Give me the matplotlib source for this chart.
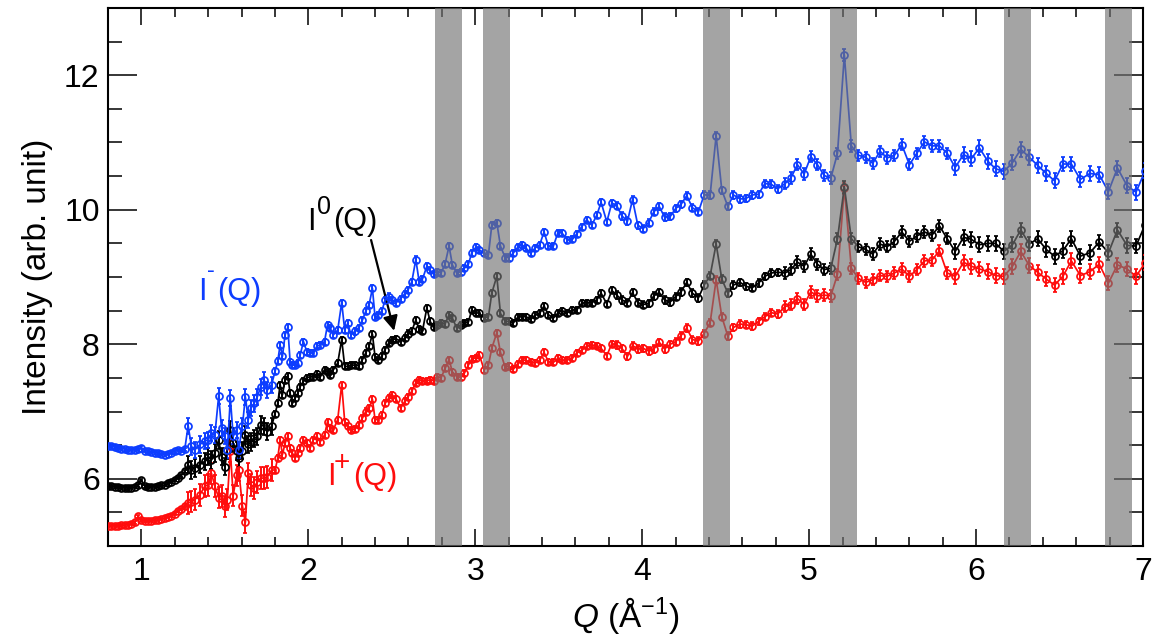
import numpy as np
import matplotlib
matplotlib.use("Agg")
import matplotlib.pyplot as plt

plt.rcParams['font.family'] = ['Liberation Sans', 'DejaVu Sans']
plt.rcParams['mathtext.fontset'] = 'custom'
plt.rcParams['mathtext.rm'] = 'Liberation Sans'
plt.rcParams['mathtext.it'] = 'Liberation Sans:italic'

# ---------------- data ----------------
# region A: flat low-Q part
q_a = [0.80, 0.82, 0.84, 0.86, 0.88, 0.90, 0.92, 0.94, 0.96, 0.98, 1.00, 1.02,
       1.04, 1.06, 1.08, 1.10, 1.12, 1.14, 1.16, 1.18, 1.20, 1.22, 1.24, 1.26]
minus_a = [6.49, 6.48, 6.47, 6.46, 6.45, 6.44, 6.43, 6.43, 6.43, 6.44, 6.46, 6.42,
           6.41, 6.40, 6.39, 6.38, 6.37, 6.36, 6.37, 6.39, 6.41, 6.43, 6.42, 6.44]
zero_a = [5.89, 5.89, 5.88, 5.88, 5.87, 5.87, 5.86, 5.87, 5.88, 5.90, 5.98, 5.89,
          5.88, 5.88, 5.88, 5.89, 5.90, 5.91, 5.93, 5.95, 5.98, 6.01, 6.05, 6.11]
plus_a = [5.30, 5.30, 5.30, 5.30, 5.31, 5.31, 5.32, 5.33, 5.35, 5.44, 5.38, 5.37,
          5.37, 5.37, 5.38, 5.39, 5.40, 5.42, 5.43, 5.45, 5.48, 5.52, 5.55, 5.59]
err_a = (0.02, 0.02, 0.02)

# region B: noisy part with large errors
q_b = [1.28, 1.30, 1.32, 1.35, 1.38, 1.40, 1.42, 1.44, 1.463, 1.48, 1.50, 1.515,
       1.533, 1.55, 1.57, 1.583, 1.605, 1.623, 1.64, 1.655, 1.675, 1.695, 1.715,
       1.735, 1.755, 1.78]
minus_b = [6.79, 6.48, 6.43, 6.51, 6.56, 6.58, 6.68, 6.65, 7.23, 6.75, 6.63, 6.43,
           7.20, 6.63, 6.73, 6.43, 6.78, 7.22, 6.88, 7.05, 7.12, 7.22, 7.37, 7.47,
           7.32, 7.40]
zero_b = [6.21, 6.13, 6.16, 6.21, 6.26, 6.33, 6.28, 6.38, 6.58, 6.33, 6.18, 6.43,
          6.73, 6.53, 6.41, 6.31, 6.42, 6.65, 6.51, 6.55, 6.60, 6.63, 6.80, 6.78,
          6.70, 6.78]
plus_b = [5.64, 5.66, 5.69, 5.76, 5.89, 5.91, 6.08, 5.89, 5.72, 5.74, 5.59, 5.69,
          6.41, 5.75, 6.05, 6.13, 5.60, 5.35, 6.08, 5.91, 5.86, 5.95, 6.01, 6.01,
          6.03, 6.13]
err_b = (0.12, 0.13, 0.16)

# region C
q_c = [1.801, 1.817, 1.831, 1.845, 1.861, 1.877, 1.891, 1.905, 1.921, 1.937, 1.951,
       1.971, 1.991, 2.011, 2.031, 2.051, 2.071, 2.097, 2.115, 2.131, 2.150, 2.176,
       2.200, 2.218, 2.236, 2.256, 2.280, 2.302, 2.324, 2.344, 2.364, 2.384, 2.400,
       2.420, 2.440, 2.460, 2.482, 2.502, 2.527, 2.553, 2.578, 2.598, 2.620, 2.644,
       2.664, 2.684, 2.710, 2.730, 2.750, 2.770, 2.795]
minus_c = [7.60, 7.75, 7.99, 7.82, 8.14, 8.25, 7.74, 7.69, 7.69, 7.72, 7.84, 8.04,
           7.89, 7.87, 7.87, 7.97, 7.99, 8.04, 8.29, 8.24, 8.14, 8.21, 8.62, 8.21,
           8.31, 8.14, 8.19, 8.24, 8.36, 8.49, 8.59, 8.83, 8.40, 8.44, 8.49, 8.66,
           8.71, 8.66, 8.62, 8.68, 8.75, 8.81, 8.93, 9.26, 8.93, 8.97, 9.16, 9.10,
           9.05, 9.08, 9.06]
zero_c = [6.97, 7.12, 7.40, 7.25, 7.47, 7.53, 7.27, 7.12, 7.20, 7.27, 7.37, 7.45,
          7.50, 7.52, 7.52, 7.56, 7.52, 7.62, 7.59, 7.54, 7.62, 7.72, 8.07, 7.67,
          7.67, 7.69, 7.69, 7.68, 7.77, 7.87, 7.97, 8.15, 7.81, 7.76, 7.82, 7.92,
          8.02, 8.07, 8.08, 8.04, 8.09, 8.16, 8.20, 8.36, 8.22, 8.20, 8.54, 8.34,
          8.25, 8.29, 8.31]
plus_c = [6.13, 6.31, 6.58, 6.36, 6.53, 6.63, 6.46, 6.38, 6.31, 6.38, 6.46, 6.58,
          6.53, 6.46, 6.58, 6.63, 6.55, 6.65, 6.85, 6.75, 6.73, 6.88, 7.40, 6.85,
          6.78, 6.72, 6.74, 6.80, 6.90, 7.00, 7.05, 7.18, 6.88, 6.88, 6.95, 7.12,
          7.20, 7.25, 7.18, 7.05, 7.15, 7.22, 7.30, 7.43, 7.47, 7.45, 7.46, 7.47,
          7.46, 7.51, 7.50]
err_c = (0.045, 0.045, 0.045)

# region D
q_d = [2.819, 2.843, 2.863, 2.889, 2.913, 2.935, 2.959, 2.979, 3.003, 3.025, 3.053,
       3.079, 3.099, 3.129, 3.151, 3.179, 3.203, 3.229, 3.254, 3.280, 3.304, 3.332,
       3.358, 3.386, 3.412, 3.438, 3.468, 3.494, 3.518, 3.552, 3.582, 3.608, 3.638,
       3.668, 3.698, 3.728, 3.754, 3.788, 3.818]
minus_d = [9.19, 9.46, 9.18, 9.06, 9.08, 9.13, 9.19, 9.36, 9.44, 9.40, 9.35, 9.33,
           9.77, 9.81, 9.46, 9.29, 9.29, 9.36, 9.44, 9.48, 9.43, 9.35, 9.43, 9.48,
           9.67, 9.46, 9.46, 9.65, 9.66, 9.55, 9.56, 9.64, 9.75, 9.85, 9.77, 9.92,
           10.11, 9.82, 10.10]
zero_d = [8.30, 8.44, 8.39, 8.24, 8.29, 8.31, 8.33, 8.51, 8.47, 8.46, 8.39, 8.41,
          8.76, 9.01, 8.46, 8.34, 8.34, 8.32, 8.40, 8.41, 8.41, 8.37, 8.43, 8.46,
          8.57, 8.44, 8.39, 8.46, 8.50, 8.47, 8.51, 8.51, 8.61, 8.62, 8.62, 8.66,
          8.76, 8.60, 8.80]
plus_d = [7.64, 7.77, 7.59, 7.52, 7.51, 7.57, 7.69, 7.78, 7.80, 7.84, 7.62, 7.69,
          7.94, 8.17, 7.88, 7.66, 7.67, 7.63, 7.71, 7.77, 7.76, 7.73, 7.72, 7.76,
          7.88, 7.74, 7.73, 7.79, 7.76, 7.77, 7.79, 7.87, 7.91, 7.97, 7.99, 7.97,
          7.94, 7.83, 8.01]
err_d = (0.045, 0.045, 0.045)

# region E
q_e = [3.848, 3.878, 3.912, 3.942, 3.974, 4.006, 4.038, 4.070, 4.102, 4.134, 4.168,
       4.201, 4.233, 4.267, 4.301, 4.337, 4.371, 4.407, 4.443, 4.477, 4.513, 4.547,
       4.587, 4.623, 4.659, 4.697, 4.735, 4.773, 4.811]
minus_e = [10.06, 9.91, 9.83, 10.15, 9.77, 9.72, 9.81, 9.97, 10.05, 9.89, 9.90,
           10.02, 10.08, 10.21, 10.03, 9.97, 10.22, 10.22, 11.10, 10.29, 10.05,
           10.22, 10.16, 10.17, 10.22, 10.23, 10.39, 10.38, 10.31]
zero_e = [8.73, 8.66, 8.62, 8.77, 8.62, 8.59, 8.61, 8.72, 8.77, 8.66, 8.63, 8.71,
          8.78, 8.92, 8.76, 8.69, 8.88, 9.02, 9.49, 8.97, 8.76, 8.88, 8.92, 8.86,
          8.84, 8.91, 9.01, 9.06, 9.07]
plus_e = [7.99, 7.94, 7.82, 7.98, 7.93, 7.94, 7.90, 7.93, 8.03, 7.93, 8.00, 8.04,
          8.13, 8.24, 8.07, 8.05, 8.16, 8.32, 8.96, 8.41, 8.12, 8.25, 8.30, 8.29,
          8.27, 8.34, 8.41, 8.47, 8.45]
err_e = (0.055, 0.055, 0.055)

# region F
q_f = [4.856, 4.890, 4.930, 4.970, 5.010, 5.050, 5.090, 5.130, 5.170, 5.211, 5.253,
       5.295, 5.339, 5.381, 5.425, 5.467, 5.511, 5.555, 5.601, 5.645, 5.691, 5.735,
       5.781, 5.827]
minus_f = [10.39, 10.47, 10.67, 10.53, 10.79, 10.67, 10.51, 10.47, 10.84, 12.30,
           10.95, 10.81, 10.78, 10.69, 10.87, 10.77, 10.81, 10.97, 10.67, 10.84,
           11.01, 10.95, 10.95, 10.84]
zero_f = [9.06, 9.11, 9.22, 9.16, 9.34, 9.19, 9.11, 9.13, 9.57, 10.34, 9.57, 9.45,
          9.41, 9.34, 9.49, 9.45, 9.53, 9.67, 9.53, 9.61, 9.67, 9.62, 9.76, 9.57]
plus_f = [8.56, 8.59, 8.68, 8.59, 8.78, 8.72, 8.73, 8.72, 9.04, 10.32, 9.13, 8.98,
          8.92, 8.96, 9.02, 9.01, 9.06, 9.12, 9.01, 9.11, 9.24, 9.25, 9.39, 9.06]
err_f = (0.085, 0.085, 0.085)

# region G
q_g = [5.875, 5.925, 5.972, 6.020, 6.071, 6.117, 6.167, 6.218, 6.268, 6.319, 6.369,
       6.420, 6.470, 6.520, 6.571, 6.625, 6.682, 6.738, 6.793, 6.847, 6.904, 6.958,
       7.013]
minus_g = [10.63, 10.82, 10.76, 10.92, 10.72, 10.61, 10.57, 10.70, 10.90, 10.78,
           10.66, 10.54, 10.43, 10.68, 10.68, 10.45, 10.54, 10.52, 10.27, 10.62,
           10.36, 10.26, 10.58]
zero_g = [9.38, 9.59, 9.56, 9.48, 9.50, 9.50, 9.38, 9.48, 9.70, 9.49, 9.57, 9.41,
          9.31, 9.39, 9.57, 9.31, 9.36, 9.52, 9.36, 9.70, 9.47, 9.46, 9.78]
plus_g = [9.01, 9.22, 9.16, 9.12, 9.08, 9.02, 9.01, 9.16, 9.38, 9.17, 9.07, 8.97,
          8.88, 9.01, 9.24, 9.02, 9.08, 9.19, 8.91, 9.18, 9.12, 9.01, 9.21]
err_g = (0.11, 0.11, 0.11)

# excluded Q ranges (gray bands)
band_lo = [2.759, 3.047, 4.365, 5.126, 6.167, 6.771]
band_hi = [2.919, 3.207, 4.527, 5.286, 6.327, 6.932]

# ---------------- assemble ----------------
regions = [
    (q_a, minus_a, zero_a, plus_a, err_a),
    (q_b, minus_b, zero_b, plus_b, err_b),
    (q_c, minus_c, zero_c, plus_c, err_c),
    (q_d, minus_d, zero_d, plus_d, err_d),
    (q_e, minus_e, zero_e, plus_e, err_e),
    (q_f, minus_f, zero_f, plus_f, err_f),
    (q_g, minus_g, zero_g, plus_g, err_g),
]
Q = np.concatenate([np.array(r[0]) for r in regions])
series = {}
for k, name in enumerate(['minus', 'zero', 'plus']):
    y = np.concatenate([np.array(r[k + 1]) for r in regions])
    e = np.concatenate([np.full(len(r[0]), r[4][k]) for r in regions])
    series[name] = (y, e)

colors = {'minus': '#0d3dff', 'zero': '#000000', 'plus': '#ff0d0d'}

fig = plt.figure(figsize=(11.55, 6.39), dpi=100)
ax = fig.add_axes([0.0935, 0.1455, 0.9896 - 0.0935, 0.9875 - 0.1455])

for name in ['plus', 'zero', 'minus']:
    y, e = series[name]
    ax.errorbar(Q, y, yerr=e, fmt='-o', color=colors[name], mfc='none',
                mec=colors[name], ms=5.0, mew=1.25, lw=1.25, elinewidth=1.4,
                capsize=1.4, capthick=1.2, zorder=3)

for lo, hi in zip(band_lo, band_hi):
    ax.axvspan(lo, hi, color='0.45', alpha=0.65, lw=0, zorder=5)

ax.set_xlim(0.8, 7.0)
ax.set_ylim(5.0, 13.0)
ax.set_xticks([1, 2, 3, 4, 5, 6, 7])
ax.set_xticks(np.arange(0.8, 7.01, 0.2), minor=True)
ax.set_yticks([6, 8, 10, 12])
ax.set_yticks(np.arange(5.0, 13.01, 0.5), minor=True)
ax.tick_params(which='both', direction='in', top=True, right=True,
               labelsize=23, width=1.1)
ax.tick_params(axis='x', which='major', length=12, pad=8)
ax.tick_params(axis='x', which='minor', length=6.5)
ax.tick_params(axis='y', which='major', length=21, pad=6)
ax.tick_params(axis='y', which='minor', length=10)
for s in ax.spines.values():
    s.set_linewidth(1.5)

ax.set_ylabel('Intensity (arb. unit)', fontsize=24, labelpad=8)
ax.set_xlabel(r'$\mathit{Q}$ (Å$^{\mathregular{-1}}$)', fontsize=24, labelpad=6)


def label(q, i, sup, color, sup_size, sup_dx, sup_dy, rest_dx):
    """I^{sup}(Q) built from pieces; offsets in pixels (1 px = 0.72 pt)."""
    kw = dict(xy=(q, i), xycoords='data', textcoords='offset points',
              color=color, ha='left', va='baseline', zorder=6)
    ax.annotate('I', xytext=(0, 0), fontsize=22, **kw)
    ax.annotate(sup, xytext=(sup_dx * 0.72, sup_dy * 0.72),
                fontsize=sup_size, **kw)
    ax.annotate('(Q)', xytext=(rest_dx * 0.72, 0), fontsize=22, **kw)


label(1.339, 8.66, '-', colors['minus'], 17, 9, 23, 19)
label(1.992, 9.70, '0', 'k', 18, 10, 16, 26)
label(2.112, 5.91, '+', colors['plus'], 20, 7, 15, 26)

ax.annotate('', xy=(2.514, 8.20), xytext=(2.376, 9.55),
            arrowprops=dict(arrowstyle='-|>', lw=1.6, color='k',
                            mutation_scale=22, shrinkA=0, shrinkB=0))

fig.savefig('out.png', dpi=100)
